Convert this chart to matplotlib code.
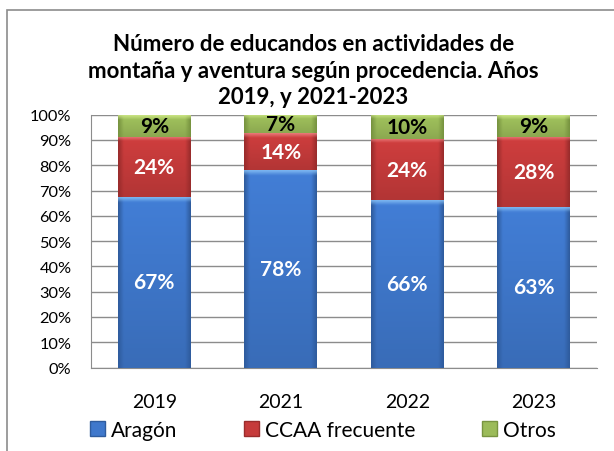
import matplotlib
matplotlib.use("Agg")
from matplotlib import pyplot as plt
from matplotlib.patches import Rectangle, Patch
import numpy as np

years = ['2019', '2021', '2022', '2023']
aragon = [67.4, 78.2, 66.1, 63.4]
ccaa = [23.9, 14.4, 24.2, 27.9]
otros = [8.7, 7.4, 9.7, 8.7]
series_names = ['Aragón', 'CCAA frecuente', 'Otros']

plt.rcParams['font.family'] = ['Lato', 'DejaVu Sans']

# base, light top, dark edge
colors = [('#3f78cc', '#86c0f5', '#2f5c9e'),
          ('#c63b3b', '#f08a8a', '#9a2c2c'),
          ('#9bbb59', '#d4ec8e', '#789440')]
label_colors = ['white', 'white', 'black']

fig = plt.figure(figsize=(6.14, 4.52), dpi=100)
ax = fig.add_axes([0.1482, 0.1847, 0.9723 - 0.1482, 0.744 - 0.1847])

# outer chart border
fig.patches.append(Rectangle((7 / 614, -0.1), 1.2, 1 - 11 / 452 + 0.1,
                             transform=fig.transFigure, fill=False,
                             edgecolor='#8c8c8c', linewidth=1.2))

x = np.arange(len(years))
data = np.array([aragon, ccaa, otros])
totals = data.sum(axis=0)
pct = data / totals * 100
bottom = np.zeros(len(years))


def shade(patch, base, light, dark):
    x0, y0 = patch.get_x(), patch.get_y()
    w, h = patch.get_width(), patch.get_height()
    nx, ny = 60, 120
    b = np.array(matplotlib.colors.to_rgb(base))
    lt = np.array(matplotlib.colors.to_rgb(light))
    dk = np.array(matplotlib.colors.to_rgb(dark))
    u = np.linspace(-1, 1, nx)
    edge = np.clip((np.abs(u) - 0.85) / 0.15, 0, 1)[None, :, None]
    yy = np.linspace(y0 + h, y0, ny)[:, None, None]
    vert = ((y0 + h - yy) / max(h, 1e-6))
    img = b * (1.05 - 0.15 * vert)
    img = np.clip(img, 0, 1)
    img = img * (1 - edge) + dk * edge
    top = np.clip(1 - (y0 + h - yy) / 1.8, 0, 1)
    img = img * (1 - top * 0.8) + lt * top * 0.8
    img = np.broadcast_to(img, (ny, nx, 3))
    ax.imshow(img, extent=[x0, x0 + w, y0, y0 + h], aspect='auto',
              zorder=3, interpolation='bilinear')


for i in range(3):
    bars = ax.bar(x, pct[i], width=0.575, bottom=bottom, color=colors[i][0],
                  zorder=2, linewidth=0)
    for p in bars:
        shade(p, *colors[i])
    for xi, v, b0, raw in zip(x, pct[i], bottom, data[i]):
        ax.text(xi, b0 + v / 2, '%d%%' % round(raw), ha='center', va='center',
                color=label_colors[i], fontsize=15, fontweight='bold', zorder=5)
    bottom = bottom + pct[i]

ax.set_xlim(-0.5, len(years) - 0.5)
ax.set_ylim(0, 100)
ax.set_yticks(range(0, 101, 10))
ax.set_yticklabels(['%d%%' % v for v in range(0, 101, 10)])
ax.set_xticks(x)
ax.set_xticklabels(years)
ax.tick_params(axis='both', length=0, colors='black')
ax.tick_params(axis='y', pad=14, labelsize=11.8)
ax.tick_params(axis='x', pad=18, labelsize=14)
ax.yaxis.grid(True, color='#8c8c8c', linewidth=1)
ax.set_axisbelow(True)
for s in ['top', 'right']:
    ax.spines[s].set_visible(False)
for s in ['left', 'bottom']:
    ax.spines[s].set_color('#8c8c8c')

fig.text(0.51, 1 - 71 / 452, 'Número de educandos en actividades de\n'
         'montaña y aventura según procedencia. Años\n2019, y 2021-2023',
         ha='center', va='center', fontsize=16, fontweight='bold',
         linespacing=1.33)

handles = [Patch(facecolor=c[0], edgecolor=c[2]) for c in colors]
fig.legend(handles, series_names, ncol=3, loc='center',
           bbox_to_anchor=(0.526, 1 - 431 / 452), frameon=False, fontsize=15,
           handlelength=0.7, handleheight=0.7, handletextpad=0.3,
           columnspacing=3.2)

fig.savefig('out.png', dpi=100)
